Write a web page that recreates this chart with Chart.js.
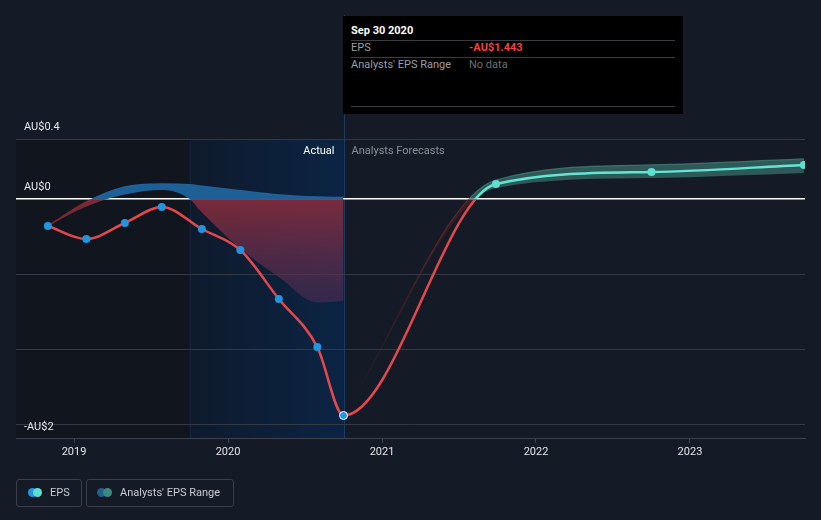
<!DOCTYPE html>
<html>
<head>
<meta charset="utf-8">
<script src="https://cdn.jsdelivr.net/npm/chart.js@4.4.0/dist/chart.umd.min.js"></script>
<style>
body{margin:0;background:#151b26;font-family:Roboto,sans-serif;}
#wrap{position:relative;width:821px;height:520px;overflow:hidden;}
#mycanvas{position:absolute;left:0;top:0;}
#tip{position:absolute;left:343px;top:16px;width:340px;height:98px;background:#000;font-size:11px;}
#tip div{position:absolute;white-space:nowrap;line-height:14px;}
#tip .ln{left:8px;width:324px;height:1px;background:#3a3c40;}
.lg{position:absolute;top:479px;height:28px;box-sizing:border-box;border:1px solid #3a3f49;border-radius:3px;font-size:11px;color:#c9ccd1;}
.lg .d{position:absolute;top:7.5px;width:9px;height:9px;border-radius:50%;}
.lg .t{position:absolute;top:0;line-height:26px;white-space:nowrap;}
</style>
</head>
<body>
<div id="wrap">
<canvas id="mycanvas" width="821" height="520"></canvas>
<div id="tip">
  <div style="left:8px;top:8px;color:#fff;font-weight:bold;">Sep 30 2020</div>
  <div class="ln" style="top:24px"></div>
  <div style="left:8px;top:25px;color:#9a9ea5;">EPS</div>
  <div style="left:126px;top:25px;color:#f0443f;font-weight:bold;">-AU$1.443</div>
  <div class="ln" style="top:41px"></div>
  <div style="left:8px;top:42px;color:#9a9ea5;">Analysts' EPS Range</div>
  <div style="left:126px;top:42px;color:#6b6f75;">No data</div>
  <div class="ln" style="top:90px"></div>
</div>
<div class="lg" style="left:16px;width:66px">
  <span class="d" style="left:10.5px;background:#2394df"></span>
  <span class="d" style="left:16px;background:#5ee0d0"></span>
  <span class="t" style="left:33px">EPS</span>
</div>
<div class="lg" style="left:86px;width:148px">
  <span class="d" style="left:9.5px;background:#1f5f8c"></span>
  <span class="d" style="left:15.5px;background:#3c8a80"></span>
  <span class="t" style="left:33px">Analysts' EPS Range</span>
</div>
</div>
<script>
// EPS history (decimal years) and forecasts
var actualX = [2018.83, 2019.08, 2019.33, 2019.57, 2019.83, 2020.08, 2020.33, 2020.58, 2020.75];
var actualEps = [-0.18, -0.267, -0.16, -0.053, -0.2, -0.34, -0.667, -0.987, -1.443];
var forecastX = [2021.74, 2022.75, 2023.74];
var forecastEps = [0.1, 0.18, 0.227];
var forecastHigh = [0.127, 0.227, 0.267];
var forecastLow = [0.073, 0.14, 0.173];
// past analysts range
var pastRangeX = [2018.83, 2019.08, 2019.33, 2019.57, 2019.75, 2019.83, 2020.08, 2020.33, 2020.58, 2020.75];
var pastHigh = [-0.18, -0.02, 0.08, 0.1, 0.095, 0.085, 0.055, 0.027, 0.013, 0.01];
var pastLow = [-0.18, -0.05, 0.03, 0.06, 0.0, -0.09, -0.33, -0.52, -0.69, -0.68];
var yearTicks = [2019, 2020, 2021, 2022, 2023];
var yTicks = [0.4, 0, -0.5, -1, -1.5];
var yLabels = ['AU$0.4', 'AU$0', '', '', '-AU$2'];
var lastActual = 2020.75, periodStart = 2019.75;

function pts(xs, ys){ return xs.map(function(x, i){ return {x: x, y: ys[i]}; }); }

// gradient split at zero: above colour / below colour (optionally fading to below2 at value v2)
function zeroSplit(above, below, below2, v2){
  return function(context){
    var chart = context.chart, ca = chart.chartArea;
    if(!ca) return above;
    var h = ca.bottom - ca.top;
    var y0 = chart.scales.y.getPixelForValue(0);
    var g = chart.ctx.createLinearGradient(0, ca.top, 0, ca.bottom);
    var f = Math.min(Math.max((y0 - ca.top) / h, 0), 1);
    g.addColorStop(0, above);
    g.addColorStop(f, above);
    g.addColorStop(Math.min(f + 0.001, 1), below);
    if(below2){
      var y2 = chart.scales.y.getPixelForValue(v2);
      g.addColorStop(Math.min((y2 - ca.top) / h, 1), below2);
    }
    g.addColorStop(1, below2 || below);
    return g;
  };
}

var epsX = actualX.concat(forecastX);
var epsY = actualEps.concat(forecastEps);
var pointFill = epsX.map(function(x){ return x <= lastActual ? '#2394df' : '#5ee0d0'; });
var pointEdge = epsX.map(function(x){ return x === lastActual ? '#ffffff' : 'rgba(0,0,0,0)'; });

var bgPlugin = {
  id: 'bg',
  beforeDraw: function(chart){
    var c = chart.ctx, ca = chart.chartArea, x = chart.scales.x;
    c.save();
    c.fillStyle = '#151b26';
    c.fillRect(0, 0, chart.width, chart.height);
    var xs = x.getPixelForValue(periodStart), xa = x.getPixelForValue(lastActual);
    c.fillStyle = '#11151d';
    c.fillRect(ca.left, ca.top, xs - ca.left, ca.bottom - ca.top);
    var g = c.createLinearGradient(xs, 0, xa, 0);
    g.addColorStop(0, '#0f1a2c');
    g.addColorStop(1, '#0b2444');
    c.fillStyle = g;
    c.fillRect(xs, ca.top, xa - xs, ca.bottom - ca.top);
    c.fillStyle = 'rgba(30,55,90,0.35)';
    c.fillRect(Math.round(xs), ca.top, 1, ca.bottom - ca.top);
    c.fillStyle = '#1d3a63';
    c.fillRect(Math.round(xa), 15, 1, ca.bottom - 15);
    c.restore();
  },
  afterDatasetsDraw: function(chart){
    var c = chart.ctx, ca = chart.chartArea, x = chart.scales.x, y = chart.scales.y;
    c.save();
    c.font = '11px Roboto';
    c.textBaseline = 'middle';
    c.fillStyle = '#e6e8eb';
    yTicks.forEach(function(v, i){
      if(!yLabels[i]) return;
      var py = y.getPixelForValue(v);
      py = i === yTicks.length - 1 ? py + 3 : py - 12;
      c.textAlign = 'left';
      c.fillText(yLabels[i], ca.left + 8, py);
    });
    var xa = x.getPixelForValue(lastActual);
    c.textAlign = 'right';
    c.fillStyle = '#ffffff';
    c.fillText('Actual', xa - 9, ca.top + 12);
    c.textAlign = 'left';
    c.fillStyle = '#8a8f98';
    c.fillText('Analysts Forecasts', xa + 8, ca.top + 12);
    c.restore();
  }
};

var chart = new Chart(document.getElementById('mycanvas'), {
  type: 'line',
  data: {
    datasets: [
      {
        label: 'EPS',
        data: pts(epsX, epsY),
        borderColor: zeroSplit('#62e6d3', '#e5474b'),
        borderWidth: 2.5,
        cubicInterpolationMode: 'monotone',
        pointRadius: 4,
        pointBackgroundColor: pointFill,
        pointBorderColor: pointEdge,
        pointBorderWidth: 1,
        fill: false,
        order: 0
      },
      {
        label: 'pastHigh',
        data: pts(pastRangeX, pastHigh),
        borderColor: zeroSplit('#1f6199', 'rgba(140,40,50,0.8)'),
        borderWidth: 1.5,
        cubicInterpolationMode: 'monotone',
        pointRadius: 0,
        fill: false,
        order: 5
      },
      {
        label: 'pastLow',
        data: pts(pastRangeX, pastLow),
        borderWidth: 0,
        borderColor: 'rgba(0,0,0,0)',
        backgroundColor: zeroSplit('#1e5f95', 'rgba(140,45,60,0.85)', 'rgba(80,45,85,0.55)', -0.7),
        cubicInterpolationMode: 'monotone',
        pointRadius: 0,
        fill: '-1',
        order: 6
      },
      {
        label: 'fcHigh',
        data: pts([lastActual].concat(forecastX), [actualEps[actualEps.length - 1]].concat(forecastHigh)),
        borderColor: zeroSplit('rgba(60,125,118,0.8)', 'rgba(120,40,40,0.75)', 'rgba(120,40,40,0)', -1.3),
        borderWidth: 1.2,
        cubicInterpolationMode: 'monotone',
        pointRadius: 0,
        fill: false,
        order: 5
      },
      {
        label: 'fcLow',
        data: pts([lastActual].concat(forecastX), [actualEps[actualEps.length - 1]].concat(forecastLow)),
        borderWidth: 0,
        borderColor: 'rgba(0,0,0,0)',
        backgroundColor: zeroSplit('rgba(55,110,105,0.75)', 'rgba(110,35,35,0.4)', 'rgba(110,35,35,0)', -1.3),
        cubicInterpolationMode: 'monotone',
        pointRadius: 0,
        fill: '-1',
        order: 6
      }
    ]
  },
  options: {
    responsive: false,
    animation: false,
    events: [],
    layout: { padding: { left: 16, right: 16, top: 139, bottom: 52 } },
    plugins: { legend: { display: false }, tooltip: { enabled: false } },
    scales: {
      x: {
        type: 'linear',
        min: 2018.623,
        max: 2023.747,
        afterBuildTicks: function(s){ s.ticks = yearTicks.map(function(v){ return {value: v}; }); },
        afterFit: function(s){ s.height = 30; },
        grid: { drawOnChartArea: false, drawTicks: true, tickLength: 5, color: '#3c424d' },
        border: { display: true, color: '#3c424d' },
        ticks: { color: '#e3e5e8', font: { size: 11, family: 'Roboto' }, padding: 3, maxRotation: 0,
                 callback: function(v){ return String(v); } }
      },
      y: {
        min: -1.593,
        max: 0.4,
        afterBuildTicks: function(s){ s.ticks = yTicks.map(function(v){ return {value: v}; }); },
        afterFit: function(s){ s.width = 0; },
        grid: {
          drawTicks: false,
          color: function(c){ return c.tick && c.tick.value === 0 ? '#ffffff' : '#343a45'; },
          lineWidth: function(c){ return c.tick && c.tick.value === 0 ? 1.5 : 1; }
        },
        border: { display: false },
        ticks: { display: false }
      }
    }
  },
  plugins: [bgPlugin]
});
</script>
</body>
</html>
